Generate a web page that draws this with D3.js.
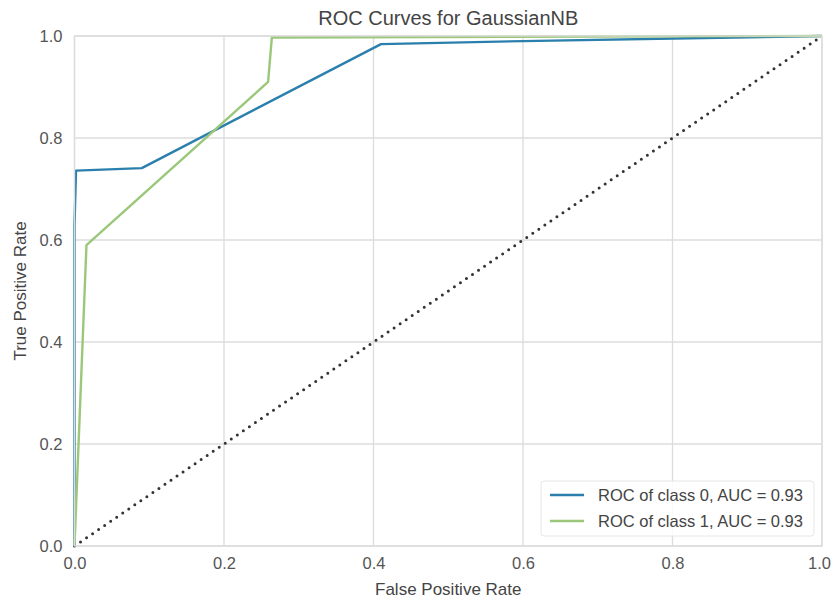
<!DOCTYPE html>
<html>
<head>
<meta charset="utf-8">
<script src="https://cdn.jsdelivr.net/npm/d3@7"></script>
<style>
  body { margin: 0; background: #fff; }
  text { font-family: "Liberation Sans", Arial, sans-serif; }
  .tick text { fill: #555; font-size: 16.5px; }
  .axisLabel { fill: #444; font-size: 17px; }
</style>
</head>
<body>
<div id="chart"></div>
<script>
// ROC points
const class0Fpr = [0, 0, 0.002, 0.09, 0.41, 0.6, 1];
const class0Tpr = [0, 0.63, 0.736, 0.741, 0.984, 0.99, 1];
const class1Fpr = [0, 0.016, 0.259, 0.264, 1];
const class1Tpr = [0, 0.59, 0.91, 0.997, 1];
const seriesNames = ["ROC of class 0, AUC = 0.93", "ROC of class 1, AUC = 0.93"];
const seriesColors = ["#2a7fad", "#9bc77a"];
const ticks = [0, 0.2, 0.4, 0.6, 0.8, 1.0];

const width = 832;
const height = 600;
const margin = { top: 36, left: 74.5, right: 10, bottom: 54 };

const svg = d3.select("#chart")
    .append("svg")
    .attr("width", width)
    .attr("height", height);

const xScale = d3.scaleLinear()
    .domain([0, 1])
    .range([margin.left, width - margin.right]);

const yScale = d3.scaleLinear()
    .domain([0, 1])
    .range([height - margin.bottom, margin.top]);

// grid
svg.append("g")
    .selectAll("line.gx")
    .data(ticks)
    .enter()
    .append("line")
        .attr("x1", d => xScale(d))
        .attr("x2", d => xScale(d))
        .attr("y1", yScale(0))
        .attr("y2", yScale(1))
        .attr("stroke", "#dcdcdc")
        .attr("stroke-width", 1.3);

svg.append("g")
    .selectAll("line.gy")
    .data(ticks)
    .enter()
    .append("line")
        .attr("x1", xScale(0))
        .attr("x2", xScale(1))
        .attr("y1", d => yScale(d))
        .attr("y2", d => yScale(d))
        .attr("stroke", "#dcdcdc")
        .attr("stroke-width", 1.3);

const xAxis = svg.append("g")
    .attr("transform", `translate(0,${height - margin.bottom})`)
    .call(d3.axisBottom(xScale).tickValues(ticks).tickFormat(d3.format(".1f")).tickSize(0).tickPadding(11));

// keep the last label inside the page
xAxis.selectAll(".tick text")
    .filter(d => d === 1)
    .attr("dx", -3);

const yAxis = svg.append("g")
    .attr("transform", `translate(${margin.left},0)`)
    .call(d3.axisLeft(yScale).tickValues(ticks).tickFormat(d3.format(".1f")).tickSize(0).tickPadding(12));

svg.selectAll(".domain").remove();

// diagonal
svg.append("line")
    .attr("x1", xScale(0))
    .attr("y1", yScale(0))
    .attr("x2", xScale(1))
    .attr("y2", yScale(1))
    .attr("stroke", "#333")
    .attr("stroke-width", 3)
    .attr("stroke-linecap", "round")
    .attr("stroke-dasharray", "0,7.3");

const line = d3.line()
    .x(d => xScale(d[0]))
    .y(d => yScale(d[1]));

const series = [
    d3.zip(class0Fpr, class0Tpr),
    d3.zip(class1Fpr, class1Tpr)
];

svg.selectAll("path.roc")
    .data(series)
    .enter()
    .append("path")
        .attr("class", "roc")
        .attr("d", line)
        .attr("fill", "none")
        .attr("stroke", (d, i) => seriesColors[i])
        .attr("stroke-width", 2.4)
        .attr("stroke-linejoin", "round");

// frame
svg.append("rect")
    .attr("x", xScale(0))
    .attr("y", yScale(1))
    .attr("width", xScale(1) - xScale(0))
    .attr("height", yScale(0) - yScale(1))
    .attr("fill", "none")
    .attr("stroke", "#dcdcdc")
    .attr("stroke-width", 1.3);

// legend
const legend = svg.append("g")
    .attr("transform", "translate(541,481)");

legend.append("rect")
    .attr("width", 273)
    .attr("height", 55)
    .attr("rx", 3)
    .attr("fill", "rgba(255,255,255,0.85)")
    .attr("stroke", "#e6e6e6");

seriesNames.forEach(function(name, i) {
    legend.append("line")
        .attr("x1", 9)
        .attr("x2", 43)
        .attr("y1", 14 + i * 26)
        .attr("y2", 14 + i * 26)
        .attr("stroke", seriesColors[i])
        .attr("stroke-width", 2.4);
    legend.append("text")
        .attr("x", 57)
        .attr("y", 20 + i * 26)
        .attr("fill", "#444")
        .style("font-size", "16.5px")
        .text(name);
});

svg.append("text")
    .attr("x", (xScale(0) + xScale(1)) / 2)
    .attr("y", 25)
    .attr("text-anchor", "middle")
    .attr("fill", "#444")
    .style("font-size", "20px")
    .text("ROC Curves for GaussianNB");

svg.append("text")
    .attr("class", "axisLabel")
    .attr("x", (xScale(0) + xScale(1)) / 2)
    .attr("y", 595)
    .attr("text-anchor", "middle")
    .text("False Positive Rate");

svg.append("text")
    .attr("class", "axisLabel")
    .attr("transform", "rotate(-90)")
    .attr("x", -(yScale(0) + yScale(1)) / 2)
    .attr("y", 26)
    .attr("text-anchor", "middle")
    .text("True Positive Rate");
</script>
</body>
</html>
